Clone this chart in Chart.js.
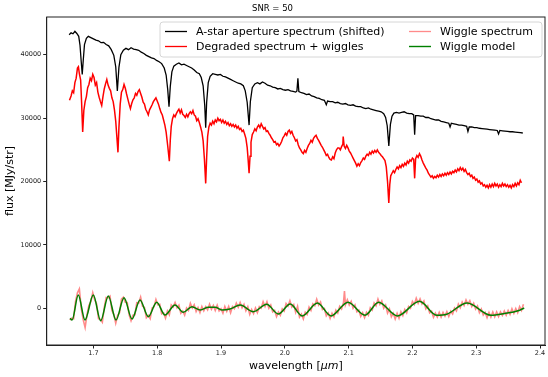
<!DOCTYPE html>
<html>
<head>
<meta charset="utf-8">
<script src="https://cdn.jsdelivr.net/npm/chart.js@4/dist/chart.umd.min.js"></script>
<style>
  body { margin: 0; background: #fff; }
  canvas { display: block; }
</style>
</head>
<body>
<canvas id="snrChart" width="548" height="377"></canvas>
<script>
// wavelength [um], flux [MJy/str]
const starSpectrum = [
  [1.662, 43150], [1.665, 43450], [1.668, 43300], [1.671, 43700], [1.674, 43350], [1.677, 42900],
  [1.679, 41500], [1.681, 38800], [1.6825, 36900], [1.684, 39000], [1.686, 41600], [1.689, 42600],
  [1.692, 42900], [1.696, 42700], [1.700, 42500], [1.704, 42300], [1.708, 42200], [1.712, 41900],
  [1.716, 41950], [1.720, 41600], [1.724, 41400], [1.728, 40800], [1.732, 39900], [1.735, 38100],
  [1.7375, 34300], [1.740, 38000], [1.743, 40000], [1.747, 40700], [1.751, 41000], [1.755, 40800],
  [1.759, 41100], [1.763, 40900], [1.767, 40800], [1.771, 40700], [1.775, 40400], [1.779, 40200],
  [1.783, 39900], [1.787, 39700], [1.791, 39500], [1.795, 39400], [1.799, 39100], [1.803, 38900],
  [1.807, 38600], [1.811, 37900], [1.814, 36800], [1.8165, 34500], [1.8185, 31800], [1.8205, 35000],
  [1.823, 37300], [1.826, 38200], [1.830, 38500], [1.834, 38700], [1.838, 38400], [1.842, 38500],
  [1.846, 38300], [1.850, 38100], [1.854, 37900], [1.858, 37600], [1.862, 37200], [1.866, 37000],
  [1.869, 36400], [1.872, 35100], [1.8745, 32000], [1.876, 28500], [1.8775, 32500], [1.880, 35600],
  [1.883, 36600], [1.887, 37000], [1.891, 36900], [1.895, 36800], [1.899, 36900], [1.903, 36600],
  [1.907, 36500], [1.911, 36300], [1.915, 36100], [1.919, 35900], [1.923, 35700], [1.927, 35500],
  [1.931, 35400], [1.935, 35100], [1.938, 34300], [1.941, 32500], [1.944, 28900], [1.946, 32600],
  [1.949, 34800], [1.953, 35400], [1.957, 35600], [1.961, 35400], [1.965, 35700], [1.969, 35500],
  [1.973, 35200], [1.977, 35100], [1.981, 34900], [1.985, 34800], [1.989, 34600], [1.993, 34700],
  [1.997, 34500], [2.001, 34400], [2.005, 34500], [2.009, 34300], [2.013, 34200], [2.017, 34100],
  [2.019, 34300], [2.0205, 36300], [2.022, 34200], [2.026, 34000], [2.030, 33900], [2.034, 33700],
  [2.038, 33800], [2.042, 33500], [2.046, 33400], [2.050, 33200], [2.054, 33100], [2.058, 32900],
  [2.062, 32800], [2.065, 32100], [2.067, 32700], [2.071, 32600], [2.075, 32600], [2.079, 32400],
  [2.083, 32500], [2.087, 32300], [2.091, 32200], [2.095, 32300], [2.099, 32100], [2.103, 32000],
  [2.107, 32100], [2.111, 31900], [2.115, 31800], [2.119, 31800], [2.123, 31600], [2.127, 31500],
  [2.131, 31600], [2.135, 31400], [2.139, 31300], [2.143, 31200], [2.147, 31100], [2.151, 31000],
  [2.155, 30700], [2.158, 30100], [2.1605, 28800], [2.163, 25600], [2.1655, 29000], [2.168, 30300],
  [2.171, 30800], [2.175, 30900], [2.179, 30800], [2.183, 30900], [2.187, 31000], [2.191, 30800],
  [2.195, 30700], [2.199, 30700], [2.202, 30500], [2.2035, 27400], [2.205, 30400], [2.209, 30400],
  [2.213, 30300], [2.217, 30300], [2.221, 30100], [2.225, 30100], [2.229, 29900], [2.233, 29800],
  [2.237, 29700], [2.241, 29700], [2.245, 29500], [2.249, 29400], [2.253, 29300], [2.257, 29200],
  [2.259, 28600], [2.261, 29200], [2.265, 29100], [2.269, 29000], [2.273, 28900], [2.277, 28900],
  [2.281, 28800], [2.285, 28700], [2.287, 27900], [2.289, 28600], [2.293, 28600], [2.297, 28500],
  [2.301, 28500], [2.305, 28400], [2.309, 28350], [2.313, 28300], [2.317, 28250], [2.321, 28200],
  [2.325, 28150], [2.329, 28100], [2.333, 28050], [2.335, 27500], [2.337, 28050], [2.341, 28000],
  [2.345, 27950], [2.349, 27900], [2.353, 27850], [2.357, 27850], [2.361, 27800], [2.365, 27750],
  [2.369, 27700], [2.373, 27650]
];

const degradedSpectrum = [
  [1.6625, 32800], [1.665, 33500], [1.667, 34300], [1.669, 34000], [1.671, 35600], [1.673, 36300],
  [1.675, 37900], [1.6765, 38100], [1.678, 37000], [1.680, 36000], [1.6815, 32500], [1.6832, 27800],
  [1.685, 31200], [1.687, 32600], [1.689, 33400], [1.691, 34800], [1.693, 35300], [1.695, 36300],
  [1.697, 35900], [1.699, 36900], [1.701, 36400], [1.703, 35200], [1.705, 35600], [1.707, 34100],
  [1.709, 33300], [1.711, 32600], [1.713, 32000], [1.715, 33400], [1.717, 34600], [1.719, 35400],
  [1.721, 36100], [1.723, 35200], [1.725, 34700], [1.727, 34300], [1.729, 33200], [1.731, 32600],
  [1.733, 31300], [1.735, 29500], [1.7368, 27000], [1.7385, 24600], [1.740, 28500], [1.742, 32200],
  [1.744, 34100], [1.746, 34500], [1.748, 35300], [1.750, 34700], [1.752, 33800], [1.754, 33000],
  [1.756, 32200], [1.758, 31500], [1.760, 32300], [1.762, 32900], [1.764, 33200], [1.766, 33900],
  [1.768, 33600], [1.770, 34200], [1.772, 34500], [1.774, 33900], [1.776, 33300], [1.778, 32500],
  [1.780, 32200], [1.782, 31400], [1.784, 31000], [1.786, 30500], [1.788, 31300], [1.790, 31700],
  [1.792, 32100], [1.794, 32600], [1.796, 32900], [1.798, 33200], [1.800, 32700], [1.802, 32200],
  [1.804, 31500], [1.806, 30900], [1.808, 30500], [1.810, 29700], [1.812, 28900], [1.814, 27800],
  [1.8165, 25600], [1.819, 23200], [1.8205, 26500], [1.822, 28700], [1.824, 29900], [1.826, 30500],
  [1.828, 30200], [1.830, 30700], [1.832, 31100], [1.834, 31400], [1.836, 30800], [1.838, 31300],
  [1.840, 30600], [1.842, 30400], [1.844, 30100], [1.846, 30600], [1.848, 30200], [1.850, 30700],
  [1.852, 31000], [1.854, 30700], [1.856, 31200], [1.858, 30500], [1.860, 30300], [1.862, 29600],
  [1.864, 29900], [1.866, 29300], [1.868, 28600], [1.870, 27800], [1.872, 26400], [1.874, 23500],
  [1.876, 19700], [1.8775, 23800], [1.879, 27100], [1.881, 28600], [1.883, 29200], [1.885, 28900],
  [1.887, 29500], [1.889, 29100], [1.891, 29700], [1.893, 29400], [1.895, 30000], [1.897, 29600],
  [1.899, 29800], [1.901, 29300], [1.903, 29700], [1.905, 29200], [1.907, 29500], [1.909, 29000],
  [1.911, 29300], [1.913, 28800], [1.915, 29100], [1.917, 28700], [1.919, 29000], [1.921, 28600],
  [1.923, 28900], [1.925, 28400], [1.927, 28700], [1.929, 28200], [1.931, 28400], [1.933, 27900],
  [1.935, 28100], [1.937, 27500], [1.939, 26800], [1.941, 25400], [1.9425, 23500], [1.944, 21300],
  [1.9455, 24000], [1.947, 26200], [1.949, 27400], [1.951, 27800], [1.953, 28300], [1.955, 28000],
  [1.957, 28600], [1.959, 28900], [1.961, 28500], [1.963, 29100], [1.965, 28700], [1.967, 28300],
  [1.969, 28500], [1.971, 27900], [1.973, 28000], [1.975, 27600], [1.977, 27300], [1.979, 26900],
  [1.981, 26600], [1.983, 26200], [1.985, 26300], [1.987, 25800], [1.989, 26000], [1.991, 25600],
  [1.993, 25900], [1.995, 26300], [1.997, 26900], [1.999, 27200], [2.001, 27600], [2.003, 27300],
  [2.005, 27900], [2.007, 28100], [2.009, 27600], [2.011, 27900], [2.013, 27300], [2.015, 26900],
  [2.017, 26400], [2.019, 26600], [2.021, 25800], [2.023, 25300], [2.025, 25000], [2.027, 24600],
  [2.029, 24400], [2.031, 24900], [2.033, 24600], [2.035, 25200], [2.037, 25700], [2.039, 26000],
  [2.041, 26500], [2.043, 26200], [2.045, 26800], [2.047, 27100], [2.049, 27300], [2.051, 26800],
  [2.053, 26500], [2.055, 26100], [2.057, 25700], [2.059, 25400], [2.061, 25000], [2.063, 24600],
  [2.065, 24100], [2.067, 24300], [2.069, 23800], [2.071, 23500], [2.073, 23400], [2.075, 23900],
  [2.077, 23600], [2.079, 24500], [2.081, 25000], [2.083, 25300], [2.085, 25300], [2.087, 25000],
  [2.089, 25500], [2.091, 25900], [2.0915, 27100], [2.093, 25600], [2.095, 25200], [2.097, 25700],
  [2.099, 25300], [2.101, 24800], [2.103, 24500], [2.105, 24100], [2.107, 23700], [2.109, 23300],
  [2.111, 22900], [2.113, 22400], [2.115, 22800], [2.117, 22500], [2.119, 23000], [2.121, 23300],
  [2.123, 23700], [2.125, 23500], [2.127, 24000], [2.129, 24300], [2.131, 24100], [2.133, 24600],
  [2.135, 24300], [2.137, 24800], [2.139, 24500], [2.141, 24900], [2.143, 24600], [2.145, 25000],
  [2.147, 24600], [2.149, 24400], [2.151, 24100], [2.153, 23900], [2.155, 23600], [2.157, 23300],
  [2.159, 22300], [2.161, 20000], [2.163, 16600], [2.1645, 19500], [2.166, 20900], [2.168, 21300],
  [2.170, 21700], [2.172, 21400], [2.174, 21900], [2.176, 22300], [2.178, 22000], [2.180, 22500],
  [2.182, 22200], [2.184, 22700], [2.186, 22400], [2.188, 22900], [2.190, 22600], [2.192, 23200],
  [2.194, 22900], [2.196, 23400], [2.198, 23200], [2.200, 23700], [2.202, 23500], [2.2035, 20500],
  [2.205, 23600], [2.207, 24100], [2.209, 23800], [2.211, 24400], [2.213, 24000], [2.215, 23400],
  [2.217, 22900], [2.219, 22500], [2.221, 22100], [2.223, 21800], [2.225, 21300], [2.227, 21000],
  [2.229, 20700], [2.231, 20900], [2.233, 20500], [2.235, 20800], [2.237, 20600], [2.239, 21000],
  [2.241, 20700], [2.243, 21100], [2.245, 20800], [2.247, 21200], [2.249, 20900], [2.251, 21300],
  [2.253, 21000], [2.255, 21400], [2.257, 21100], [2.259, 21500], [2.261, 21200], [2.263, 21600],
  [2.265, 21400], [2.267, 21800], [2.269, 21500], [2.271, 22000], [2.273, 21700], [2.275, 22200],
  [2.277, 21800], [2.279, 22100], [2.281, 21600], [2.283, 21900], [2.285, 21400], [2.287, 21100],
  [2.289, 21300], [2.291, 20800], [2.293, 21000], [2.295, 20500], [2.297, 20700], [2.299, 20200],
  [2.301, 20400], [2.303, 19900], [2.305, 20100], [2.307, 19600], [2.309, 19800], [2.311, 19300],
  [2.313, 19500], [2.315, 19100], [2.317, 19400], [2.319, 19000], [2.321, 19500], [2.323, 19100],
  [2.325, 19600], [2.327, 19200], [2.329, 19700], [2.331, 19300], [2.333, 19600], [2.335, 19100],
  [2.337, 19500], [2.339, 19200], [2.341, 19700], [2.343, 19300], [2.345, 19600], [2.347, 19200],
  [2.349, 19500], [2.351, 19100], [2.353, 19400], [2.355, 19000], [2.357, 19500], [2.359, 19200],
  [2.361, 19700], [2.363, 19300], [2.365, 19800], [2.367, 19500], [2.369, 20200], [2.371, 19800]
];

const wiggleSpectrum = [
  [1.663, -1850], [1.666, -1550], [1.669, -1650], [1.672, 1100], [1.675, 2430], [1.678, 3050],
  [1.681, -50], [1.684, -1800], [1.687, -3050], [1.690, -990], [1.693, 480], [1.696, 1030],
  [1.699, 2460], [1.702, 1350], [1.705, 700], [1.708, -1640], [1.711, -1750], [1.714, -2200],
  [1.717, 90], [1.720, 1720], [1.723, 1640], [1.726, 1920], [1.729, -360], [1.732, -950],
  [1.735, -2350], [1.738, -1100], [1.741, -700], [1.744, 1460], [1.747, 1750], [1.750, 960],
  [1.753, 910], [1.756, -1030], [1.759, -1970], [1.762, -1090], [1.765, -1030], [1.768, 880],
  [1.771, 820], [1.774, 1770], [1.777, 340], [1.780, 140], [1.783, -1490], [1.786, -1120],
  [1.789, -1640], [1.792, 50], [1.795, 230], [1.798, 1400], [1.801, 560], [1.804, 650],
  [1.807, -870], [1.810, -720], [1.813, -1560], [1.816, -440], [1.819, -1040], [1.822, 530],
  [1.825, 190], [1.828, 920], [1.831, 70], [1.834, 500], [1.837, -790], [1.840, -420],
  [1.843, -1080], [1.846, 40], [1.849, -360], [1.852, 780], [1.855, 50], [1.858, 560],
  [1.861, -510], [1.864, 120], [1.867, -670], [1.870, 270], [1.873, -400], [1.876, 260],
  [1.879, -250], [1.882, 660], [1.885, -140], [1.888, 460], [1.891, -340], [1.894, 480],
  [1.897, -400], [1.900, -60], [1.903, -770], [1.906, 280], [1.909, -470], [1.912, 280],
  [1.915, -710], [1.918, 280], [1.921, -60], [1.924, 820], [1.927, 160], [1.930, 920],
  [1.933, 70], [1.936, 620], [1.939, -400], [1.942, 260], [1.945, -950], [1.948, -190],
  [1.951, -830], [1.954, 40], [1.957, -690], [1.960, 260], [1.963, 10], [1.966, 1030],
  [1.969, 280], [1.972, 1030], [1.975, 10], [1.978, 520], [1.981, -560], [1.984, -320],
  [1.987, -1310], [1.990, -600], [1.993, -1090], [1.996, -100], [1.999, -440], [2.002, 750],
  [2.005, 350], [2.008, 1180], [2.011, 200], [2.014, 600], [2.017, -630], [2.020, 300],
  [2.023, -1390], [2.026, -900], [2.029, -1670], [2.032, -610], [2.035, -990], [2.038, 180],
  [2.041, -340], [2.044, 710], [2.047, 400], [2.050, 1440], [2.053, 500], [2.056, 1000],
  [2.059, -210], [2.062, -40], [2.065, -1190], [2.068, -740], [2.071, -1600], [2.074, -780],
  [2.077, -1350], [2.080, -290], [2.083, -760], [2.086, 310], [2.089, -120], [2.092, 900],
  [2.0935, 2700], [2.095, 540], [2.098, 1350], [2.101, 520], [2.104, 1080], [2.107, 20],
  [2.110, 520], [2.113, -570], [2.116, -300], [2.119, -1280], [2.122, -690], [2.125, -1490],
  [2.128, -630], [2.131, -1090], [2.134, 80], [2.137, -270], [2.140, 840], [2.143, 390],
  [2.146, 1450], [2.149, 620], [2.152, 1180], [2.155, 20], [2.158, 500], [2.161, -770],
  [2.164, -110], [2.167, -1340], [2.170, -770], [2.173, -1680], [2.176, -800], [2.179, -1570],
  [2.182, -550], [2.185, -1160], [2.188, -200], [2.191, -730], [2.194, 300], [2.197, 0],
  [2.200, 1070], [2.203, 600], [2.206, 1590], [2.209, 790], [2.212, 1500], [2.215, 690],
  [2.218, 1160], [2.221, -80], [2.224, 370], [2.227, -720], [2.230, -450], [2.233, -1420],
  [2.236, -770], [2.239, -1390], [2.242, -650], [2.245, -1400], [2.248, -660], [2.251, -1240],
  [2.254, -530], [2.257, -1290], [2.260, -470], [2.263, -890], [2.266, 40], [2.269, -410],
  [2.272, 650], [2.275, 90], [2.278, 990], [2.281, 450], [2.284, 1330], [2.287, 640],
  [2.290, 1180], [2.293, 260], [2.296, 790], [2.299, -120], [2.302, 370], [2.305, -680],
  [2.308, -120], [2.311, -1050], [2.314, -640], [2.317, -1470], [2.320, -660], [2.323, -1390],
  [2.326, -580], [2.329, -1340], [2.332, -570], [2.335, -1310], [2.338, -550], [2.341, -1120],
  [2.344, -420], [2.347, -1100], [2.350, -350], [2.353, -960], [2.356, -80], [2.359, -790],
  [2.362, -30], [2.365, -700], [2.368, 270], [2.371, -330], [2.374, 640]
];

// turning points of the fitted wiggle model
const wiggleModel = [
  [1.6633, -1580], [1.6665, -1850], [1.6763, 2100], [1.6868, -1850], [1.6998, 2100], [1.7114, -1950],
  [1.7234, 1940], [1.7354, -1850], [1.748, 1670], [1.7605, -1690], [1.773, 1310], [1.786, -1320],
  [1.7992, 950], [1.8122, -1060], [1.8279, 520], [1.8409, -630], [1.8545, 250], [1.8675, -270],
  [1.880, 160], [1.891, 160], [1.9015, -270], [1.9141, -110], [1.930, 520], [1.9506, -530],
  [1.9716, 630], [1.9898, -900], [2.0085, 680], [2.0271, -1200], [2.0511, 840], [2.0724, -1200],
  [2.099, 950], [2.1257, -1090], [2.147, 950], [2.1763, -1200], [2.2111, 1100], [2.2378, -1090],
  [2.2538, -930], [2.2856, 840], [2.323, -1090], [2.3444, -820], [2.3655, -400], [2.3752, 50]
];

const seriesLabels = [
  'A-star aperture spectrum (shifted)',
  'Degraded spectrum + wiggles',
  'Wiggle spectrum',
  'Wiggle model'
];
const seriesColors = ['#000000', '#ff0000', 'rgba(255, 60, 60, 0.6)', '#008000'];

const xTicks = [1.7, 1.8, 1.9, 2.0, 2.1, 2.2, 2.3, 2.4];
const yTicks = [0, 10000, 20000, 30000, 40000];

const FONT = 'DejaVu Sans';

function toPoints(pairs) {
    return pairs.map(p => ({ x: p[0], y: p[1] }));
}

// matplotlib style box, two column legend and the x label with italic unit
const framePlugin = {
    id: 'frame',
    afterDraw(chart) {
        const { ctx, chartArea: a } = chart;
        ctx.save();
        ctx.strokeStyle = '#222';
        ctx.lineWidth = 1;
        ctx.strokeRect(a.left, a.top, a.right - a.left, a.bottom - a.top);

        // x axis label: wavelength [$\mu m$]
        const parts = [
            { t: 'wavelength [', f: '11px "' + FONT + '"' },
            { t: '\u03bcm', f: 'italic 11px "' + FONT + '"' },
            { t: ']', f: '11px "' + FONT + '"' }
        ];
        let total = 0;
        parts.forEach(p => { ctx.font = p.f; p.w = ctx.measureText(p.t).width; total += p.w; });
        let tx = (a.left + a.right) / 2 - total / 2;
        ctx.fillStyle = '#000';
        ctx.textBaseline = 'middle';
        ctx.textAlign = 'left';
        parts.forEach(p => { ctx.font = p.f; ctx.fillText(p.t, tx, 366); tx += p.w; });

        // legend box
        const bx = 160, by = 22, bw = 382, bh = 35, r = 3;
        ctx.beginPath();
        ctx.moveTo(bx + r, by);
        ctx.arcTo(bx + bw, by, bx + bw, by + bh, r);
        ctx.arcTo(bx + bw, by + bh, bx, by + bh, r);
        ctx.arcTo(bx, by + bh, bx, by, r);
        ctx.arcTo(bx, by, bx + bw, by, r);
        ctx.closePath();
        ctx.fillStyle = 'rgba(255,255,255,0.8)';
        ctx.fill();
        ctx.strokeStyle = '#d6d6d6';
        ctx.stroke();

        const cols = [165, 409];
        const rows = [31.5, 46.5];
        ctx.font = '11px "' + FONT + '"';
        seriesLabels.forEach((label, i) => {
            const cx = cols[Math.floor(i / 2)];
            const cy = rows[i % 2];
            ctx.strokeStyle = seriesColors[i];
            ctx.lineWidth = i === 3 ? 1.4 : 1.3;
            ctx.beginPath();
            ctx.moveTo(cx, cy);
            ctx.lineTo(cx + 22, cy);
            ctx.stroke();
            ctx.fillStyle = '#000';
            ctx.fillText(label, cx + 31, cy + 0.5);
        });
        ctx.restore();
    }
};

function createChart() {
    const canvas = document.getElementById('snrChart');

    new Chart(canvas, {
        type: 'line',
        data: {
            datasets: [
                {
                    label: seriesLabels[0],
                    data: toPoints(starSpectrum),
                    borderColor: seriesColors[0],
                    borderWidth: 1.3,
                    order: 3
                },
                {
                    label: seriesLabels[1],
                    data: toPoints(degradedSpectrum),
                    borderColor: seriesColors[1],
                    borderWidth: 1.5,
                    order: 2
                },
                {
                    label: seriesLabels[2],
                    data: toPoints(wiggleSpectrum),
                    borderColor: seriesColors[2],
                    borderWidth: 1.6,
                    order: 1
                },
                {
                    label: seriesLabels[3],
                    data: toPoints(wiggleModel),
                    borderColor: seriesColors[3],
                    borderWidth: 1.5,
                    cubicInterpolationMode: 'monotone',
                    order: 0
                }
            ]
        },
        options: {
            responsive: false,
            animation: false,
            devicePixelRatio: 1,
            elements: {
                point: { radius: 0 },
                line: { fill: false, tension: 0 }
            },
            layout: {
                padding: { left: 0, right: 3, top: 0, bottom: 0 }
            },
            scales: {
                x: {
                    type: 'linear',
                    min: 1.6268,
                    max: 2.4078,
                    afterBuildTicks(axis) {
                        axis.ticks = xTicks.map(v => ({ value: v }));
                    },
                    afterFit(axis) {
                        axis.height = 32;
                    },
                    ticks: {
                        autoSkip: false,
                        maxRotation: 0,
                        padding: 1,
                        color: '#222',
                        font: { size: 6.5, family: FONT },
                        callback: v => v.toFixed(1)
                    },
                    grid: {
                        drawOnChartArea: false,
                        drawTicks: true,
                        tickLength: 3.5,
                        color: '#222'
                    },
                    border: { color: '#222' },
                    title: { display: false }
                },
                y: {
                    type: 'linear',
                    min: -5790,
                    max: 45950,
                    afterBuildTicks(axis) {
                        axis.ticks = yTicks.map(v => ({ value: v }));
                    },
                    afterFit(axis) {
                        axis.width = 46.7;
                    },
                    ticks: {
                        autoSkip: false,
                        padding: 2,
                        color: '#222',
                        font: { size: 6.5, family: FONT },
                        callback: v => String(v)
                    },
                    grid: {
                        drawOnChartArea: false,
                        drawTicks: true,
                        tickLength: 3.5,
                        color: '#222'
                    },
                    border: { color: '#222' },
                    title: {
                        display: true,
                        text: 'flux [MJy/str]',
                        color: '#000',
                        padding: { top: 4, bottom: 0 },
                        font: { size: 11, family: FONT }
                    }
                }
            },
            plugins: {
                legend: { display: false },
                tooltip: { enabled: false },
                title: {
                    display: true,
                    text: 'SNR = 50',
                    color: '#000',
                    font: { size: 8.5, family: FONT, weight: 'normal' },
                    padding: { top: 3.5, bottom: 3.3 }
                }
            }
        },
        plugins: [framePlugin]
    });
}

createChart();
</script>
</body>
</html>
